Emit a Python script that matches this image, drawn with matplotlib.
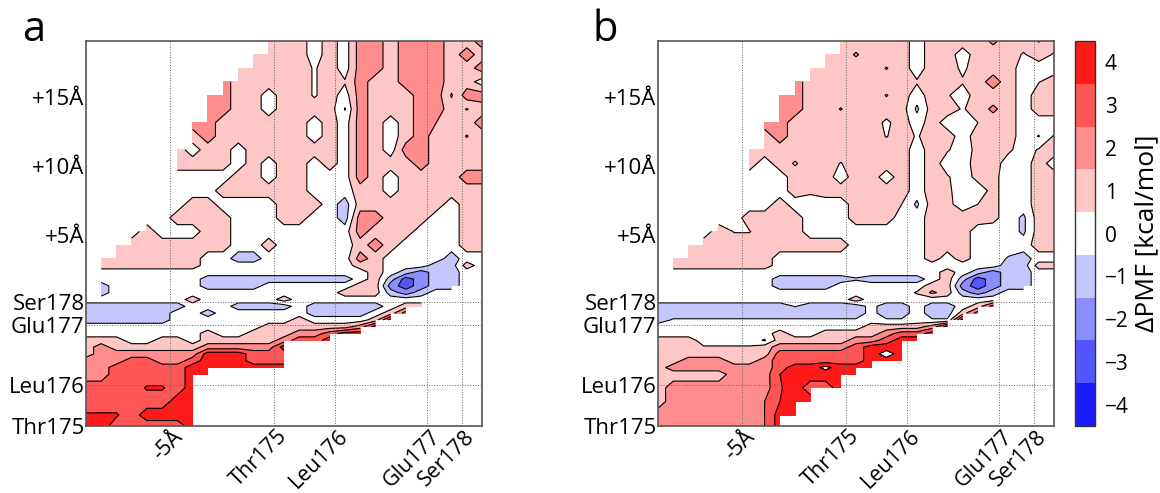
import numpy as np
import matplotlib
matplotlib.use('Agg')
import matplotlib.pyplot as plt
from matplotlib.transforms import ScaledTranslation

plt.rcParams['font.family'] = ['Open Sans', 'DejaVu Sans']

n = np.nan

# grid of the free energy maps, in Angstrom
xgrid = np.linspace(-18.4, 1.0, 27)
ygrid = [19.2, 18.2, 17.2, 16.2, 15.2, 14.2, 13.2, 12.2, 11.2, 10.2, 9.2, 8.2, 7.2, 6.2, 5.2, 4.2, 3.2,
         2.7, 2.2, 1.7, 1.2, 0.7, 0.2, -0.3, -0.8, -1.3, -1.8, -2.3, -2.8, -3.3, -3.8, -4.3, -4.8,
         -5.3, -6.3, -7.3, -8.3, -9.1]

xtick_pos = [-14.3, -9.2, -6.2, -1.7, 0.0]
xtick_lab = ['-5Å', 'Thr175', 'Leu176', 'Glu177', 'Ser178']
ytick_pos = [-9.1, -6.1, -1.7, 0.0, 4.95, 10.0, 15.05]
ytick_lab = ['Thr175', 'Leu176', 'Glu177', 'Ser178', '+5Å', '+10Å', '+15Å']

levels = np.arange(-4.5, 5.0, 1.0)
band_colors = ['#1a1aff', '#5555ff', '#8d8dff', '#c6c6ff', '#ffffff', '#ffc6c6', '#ff8d8d', '#ff5555', '#ff1a1a']
cbar_ticks = [-4, -3, -2, -1, 0, 1, 2, 3, 4]

pmf_a = [
    [n]*12 + [1,1,1,0,1,0,2,2,1,2,2,2,1,1,2],
    [n]*11 + [1,1,1,1,0,1,0,2,2,1,2,2,2,1,2,1],
    [n]*10 + [1,1,1,1,1,.4,1,0,2,2,1,2,2,2,1,1,2],
    [n]*9 + [2,1,1,1,1,1,.4,1,.6,2,1,1,2,2,2,1,1,0],
    [n]*8 + [2,2,1,1,0,1,1,.4,1,0,2,1,1,1,2,2,.4,2,2],
    [n]*8 + [2,2,1,1,0,1,1,1,1,-.55,2,1,1,1,2,2,1,.45,1],
    [n]*7 + [2,2,1,1,1,1,1,1,0,1,0,2,1,0,1,2,1.5,1,1,2],
    [n]*7 + [1,2,1,1,1,1,1,1,0,1,0,2,1,0,1,2,1,1,.45,1],
    [n]*6 + [1,0,1,1,0,1,1,1,1,1,1,0,2,1,0,2,2,1,1,1,1],
    [n]*6 + [1,1,1,1,0,1,0,1,1,0,1,0,2,1,1,1,2,1,1,1,1],
    [n]*6 + [0,0,0,0,1,1,0,1,1,0,0,0,2,1,0,1,1,1,1,2,2],
    [n]*6 + [0,0,0,1,1,1,1,1,1,0,0,0,1,1,0,1,1,1,1,1,1],
    [n]*5 + [0,0,1,1,0,0,0,0,1,1,1,0,-1,1,1,1,1,1,1,0,1,1],
    [n]*4 + [0,0,1,1,1,1,0,0,0,1,1,0,0,-1,2,2,1,1,1,0,0,1,1],
    [n]*3 + [0,1,0,0,0,1,1,0,0,0,0,0,0,0,0,2,1,1,1,0,0,0,1,1],
    [n]*2 + [1,1,1,1,1,1,1,1,0,0,1,0,0,0,0,0,1,2,1,0,0,0,0,1,1],
    [n] + [1,1,1,1,1,1,1,0,0,-1,-1,0,0,0,0,0,0,2,1,0,0,0,0,-1,0,0],
    [n] + [1]*7 + [0]*10 + [1,1,0,0,0,-1,-1,1,0],
    [n] + [0]*18 + [1,0,-1,-2,-1,-1,0,0],
    [n] + [0]*7 + [-1]*10 + [0,1,-1,-3,-2,-1,-1,0,0],
    [n] + [-1] + [0]*6 + [-1]*4 + [0]*6 + [1,1,-2,-3,-2,-1,-1,0,0],
    [n,-1] + [0]*15 + [1,1,1,-1,-2,-1,0,0,n,n],
    [0]*7 + [1] + [0]*5 + [1] + [0]*10 + [n]*3,
    [-1]*7 + [0]*3 + [-1]*4 + [0] + [-1]*5 + [0,1,1] + [n]*4,
    [-1]*6 + [0,0,-1] + [0]*6 + [-1]*4 + [0,1,3] + [n]*5,
    [-1]*6 + [0]*8 + [1] + [0]*4 + [1,4] + [n]*6,
    [0]*12 + [1]*6 + [2,4] + [n]*7,
    [0]*8 + [1,0,0,1,1,1,2,2,3,4,4] + [n]*8,
    [1,1,1,0,0,1,1,0,1,1,1,1,1,2,3,3,4] + [n]*10,
    [1,2,1,1,1,1,1,1,2,2,2,2,2,4] + [n]*13,
    [1,2,2,2,2,2,2,2,4,4,4,3,3,3] + [n]*13,
    [2,2,2,3,3,2,2,3,4,4,4,3,3,3] + [n]*13,
    [2,2,3,3,3,3,3,4,4,4,4,4,4,4] + [n]*13,
    [2,2,3,3,3,3,3,4,4] + [n]*18,
    [3,3,3,3,3.6,3.6,3,4] + [n]*19,
    [3,3,3,3,3,3,4,4] + [n]*19,
    [3.6,3.6,3.6,3,4,4,4,4] + [n]*19,
    [4,4,3,3,3,3,3,4] + [n]*19,
]

pmf_b = [
    [n]*12 + [1,1,1,1,1,0,1,1,1,1,1.7,1,1,.45,1],
    [n]*11 + [1,1,1.6,1,1,1,0,1,1,0,1,1,1,.4,1,.4],
    [n]*10 + [1,1,1,1,1,.45,1,0,1,1,.3,1,1,1,0,0,0],
    [n]*9 + [2,1,1,1,1,1,1,1,.6,1,1,.6,1,2,1,0,.45,1],
    [n]*8 + [2,2,1,1,1,1,1,.45,1,0,1,.6,0,1,1,1,0,1,1],
    [n]*8 + [2,2,1,1,.45,1,1,1,1,-.7,1,1,.4,1,1.7,1,0,1,1],
    [n]*7 + [2,2,1,1,1,1,1,1,.3,1,0,1,0,0,.5,1,1,0,0,0],
    [n]*7 + [1,2,1,1,1,1,1,1,.45,1,.4,1,1,0,1,1,1,0,-.55,.6],
    [n]*6 + [1,1,1,1,1,1,1,1,1,1,1,0,1,.6,0,.8,1,.7,0,.6,1],
    [n]*6 + [1,0,1,.4,1,1,.45,1,1,1,1,0,1,0,0,1,1,0,0,1,0],
    [n]*6 + [0,0,0,1,1,1,0,1,1,0,1,0,1,.6,0,.8,.8,0,0,1,1],
    [n]*6 + [0,0,0,1,.7,1,1,1,1,1,1,0,1,.7,0,0,.8,0,0,1,1],
    [n]*5 + [0,0,0,1,0,0,0,0,1,1,1,.5,-.7,1,.8,0,.5,.8,0,0,1,1],
    [n]*4 + [0,0,1,1,1,1,0,0,0,1,1,1,0,0,1,1,1,1,.8,0,-.7,1,1],
    [n]*3 + [0,1,.45,.45,1,1,1,0,0,0,0,0,0,0,0,1,1,1,0,0,0,-.7,1,1],
    [n]*2 + [1]*11 + [0]*5 + [1,1,1,0,0,0,0,1,1],
    [n] + [1]*7 + [0]*10 + [1,0,1,0,0,-.6,-1,0,0],
    [n] + [1]*7 + [0]*15 + [-1,-1,1,1],
    [n] + [0]*18 + [1,0,-1,-2,-1,-1,0,0],
    [n] + [0]*7 + [-1]*5 + [-.6] + [-1]*4 + [0,1,-1,-3,-2,-1,-1,0,0],
    [n] + [0]*7 + [-1]*4 + [0]*6 + [1,1,-2,-3,-2,-1,-1,0,0],
    [n] + [0]*16 + [.6,1.7,1,-1,-2,-1,0,0,n,n],
    [0]*13 + [1] + [0]*10 + [n]*3,
    [-1]*9 + [-.45] + [-1]*4 + [-.2,-1,-1,0,-1,-1,0,1,3] + [n]*4,
    [-1]*14 + [-.2,-1,-1,0,-1,-1,1,3] + [n]*5,
    [-1] + [-.4]*13 + [0,-.4,-.4,0,-.4,-.4,4] + [n]*6,
    [0]*14 + [1,1,1,1,2,4] + [n]*7,
    [0]*8 + [1,0,0,1,1,1,1,2,3,3,4] + [n]*8,
    [1,1,1,0,0,0,0,-.6,1,1,1,1,1,2,2,3,4,4] + [n]*9,
    [1,1,1,.6,.6,.6,.6,1,2,2,2,2,2,3,4,4,4] + [n]*10,
    [1]*8 + [3,3,3,3,3,3,4,5,4] + [n]*10,
    [1,1,2,2,2,1,1,2,3,3,3,3,3,3,4,4,4] + [n]*10,
    [1,2,2,2,2,2,2,2,3,4,4,4.8,4,4,4] + [n]*12,
    [1,1,1,1,1,2,2,2,3.5,4,4,4,4,4] + [n]*13,
    [1,2,2,2,2,2,2,2,3.4,4,3,3,4] + [n]*14,
    [1,2,2,2,2,2,2,2.5,3.5,4,4] + [n]*16,
    [2,2,2,2,2,2,2,2.5,4,4] + [n]*17,
    [2,2,2,2,2,2,2,2.5,4] + [n]*18,
]


def draw_map(ax, pmf):
    z = np.array(pmf, dtype=float)
    cf = ax.contourf(xgrid, ygrid, z, levels=levels, colors=band_colors, corner_mask=False)
    ax.contour(xgrid, ygrid, z, levels=levels, colors='k', linewidths=0.8, corner_mask=False,
               negative_linestyles='solid')
    ax.set_xlim(-18.4, 1.0)
    ax.set_ylim(-9.1, 19.2)
    ax.set_xticks(xtick_pos)
    ax.set_xticklabels(xtick_lab, rotation=45, ha='right', rotation_mode='anchor', fontsize=15.5)
    ax.set_yticks(ytick_pos)
    ax.set_yticklabels(ytick_lab, fontsize=16)
    ax.tick_params(length=0, pad=1)
    ax.tick_params(axis='x', pad=1)
    ax.grid(True, linestyle=':', color='#666666', linewidth=0.7)
    ax.set_axisbelow(False)
    # the +5/+10/+15 rows have no dotted line
    for line in ax.get_ygridlines()[4:]:
        line.set_visible(False)
    # slide the slanted labels to the right of their ticks
    shift = ScaledTranslation(2/72, 1/72, fig.dpi_scale_trans)
    for lab in ax.get_xticklabels():
        lab.set_transform(lab.get_transform() + shift)
    for s in ax.spines.values():
        s.set_color('#555555')
        s.set_linewidth(1.2)
    return cf


W, H = 1160.0, 493.0
fig = plt.figure(figsize=(11.6, 4.93), dpi=100)
ax1 = fig.add_axes([86/W, (H-426)/H, 396/W, 385/H])
ax2 = fig.add_axes([658/W, (H-426)/H, 396/W, 385/H])
cax = fig.add_axes([1075/W, (H-426)/H, 20/W, 385/H])

draw_map(ax1, pmf_a)
cf = draw_map(ax2, pmf_b)

cb = fig.colorbar(cf, cax=cax, ticks=cbar_ticks)
cb.ax.tick_params(length=0, labelsize=15, pad=7)
cb.outline.set_edgecolor('#333333')
cb.outline.set_linewidth(1.0)
cb.set_label('ΔPMF [kcal/mol]', fontsize=19, labelpad=4)

fig.text(22/W, (H-41)/H, 'a', fontsize=30)
fig.text(592/W, (H-41)/H, 'b', fontsize=30)

plt.savefig('out.png', dpi=100)
